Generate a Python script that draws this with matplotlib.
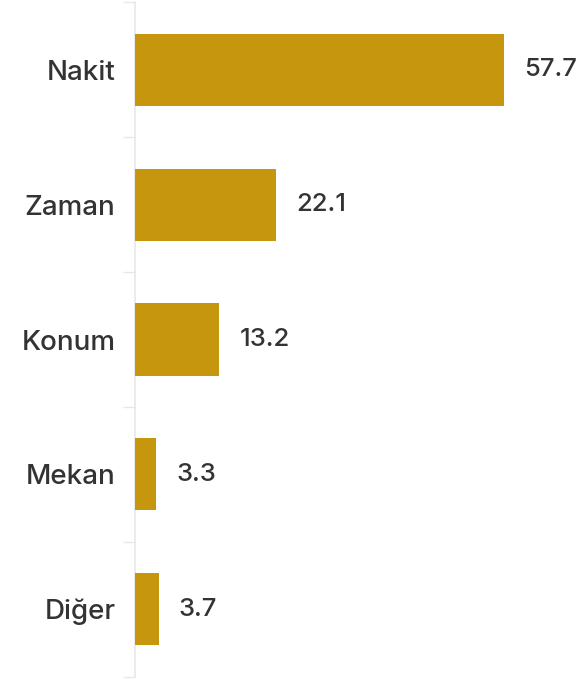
import matplotlib
matplotlib.use('Agg')
import matplotlib.pyplot as plt
import numpy as np

plt.rcParams.update({
    'font.family': ['Inter', 'DejaVu Sans'],
})

# ── Colours ───────────────────────────────────────────────────────────
BAR_CLR = '#C7960F'
TEXT_CLR = '#333333'
AXIS_CLR = '#E8E8E8'

# ── Data ──────────────────────────────────────────────────────────────
categories = ['Nakit', 'Zaman', 'Konum', 'Mekan', 'Diğer']
values = [57.7, 22.1, 13.2, 3.3, 3.7]

fig = plt.figure(figsize=(5.87, 6.8), dpi=100)
ax = fig.add_axes([135 / 587, 3.5 / 680, 452 / 587, 674 / 680])

y_pos = np.arange(len(categories))
ax.barh(y_pos, values, height=0.535, color=BAR_CLR, edgecolor='none', zorder=3)

for i, v in enumerate(values):
    ax.annotate(f'{v:.1f}', xy=(v, i), xytext=(14.5, 0), textcoords='offset points',
                ha='left', va='center', fontsize=18.5, fontweight='medium',
                color=TEXT_CLR)

ax.set_xlim(0, 452 / 6.395)
ax.set_ylim(len(categories) - 0.5, -0.5)

# category labels, separator ticks at band edges
ax.set_yticks(y_pos)
ax.set_yticklabels(categories, fontsize=20, fontweight='medium', color=TEXT_CLR)
ax.tick_params(axis='y', which='major', length=0, pad=14)
ax.set_yticks(np.arange(len(categories) + 1) - 0.5, minor=True)
ax.tick_params(axis='y', which='minor', length=9, width=1, color=AXIS_CLR)

ax.set_xticks([])
for s in ['top', 'right', 'bottom']:
    ax.spines[s].set_visible(False)
ax.spines['left'].set_color(AXIS_CLR)
ax.spines['left'].set_linewidth(1.2)

fig.savefig('out.png', dpi=100, facecolor='white')
plt.close()
